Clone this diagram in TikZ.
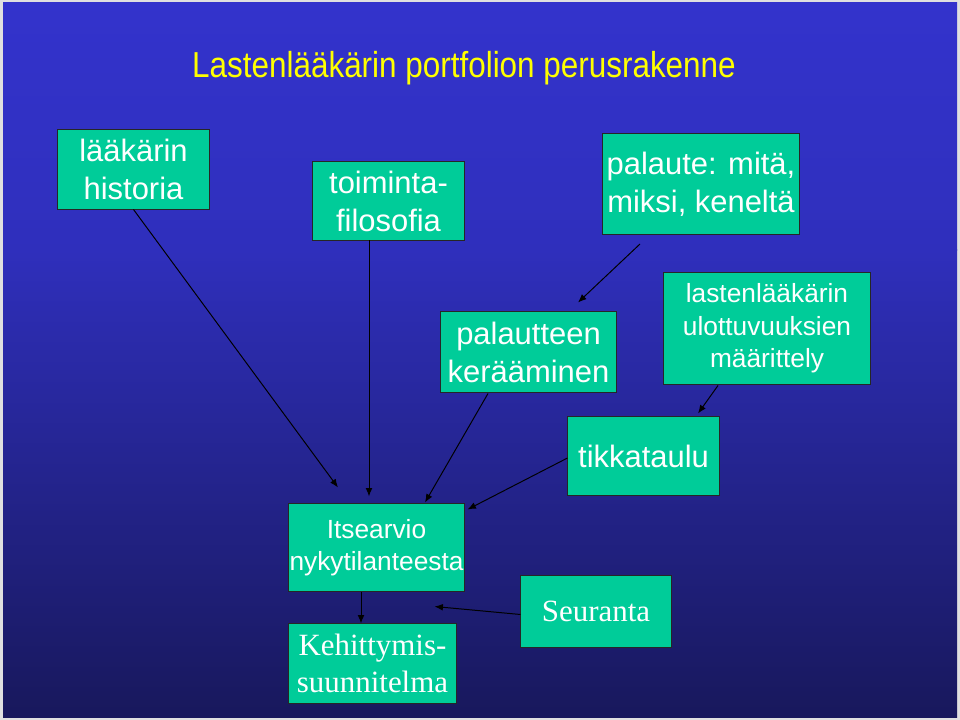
\documentclass[tikz,border=0pt]{standalone}
\usepackage{fontspec}
\setmainfont{Liberation Sans}
\newfontfamily\timesfont{Liberation Serif}
\newfontfamily\titlefont[FakeStretch=0.87]{Liberation Sans}
\usetikzlibrary{arrows.meta}
\definecolor{slidetop}{RGB}{51,51,204}
\definecolor{slidemid}{RGB}{47,47,188}
\definecolor{slidebottom}{RGB}{24,24,92}
\definecolor{boxgreen}{RGB}{0,204,153}
\definecolor{titleyellow}{RGB}{255,255,0}
\tikzset{
  box/.style={draw=black!85, line width=0.7pt, fill=boxgreen, text=white, inner sep=0pt, align=center, font=\fontsize{22}{27}\selectfont},
  smallbox/.style={box, font=\fontsize{18.7}{23}\selectfont},
  serifbox/.style={box, font=\timesfont\fontsize{22}{26.5}\selectfont},
  arr/.style={-{Latex[length=6pt,width=4.8pt]}, line width=0.7pt, black}
}

\begin{document}
\begin{tikzpicture}[x=0.025cm, y=-0.025cm]
  \useasboundingbox (0,0) rectangle (960,720);
  \fill[black!12] (0,0) rectangle (960,720);
  \shade[top color=slidetop, bottom color=slidemid] (3,3) rectangle (957,251);
  \shade[top color=slidemid, bottom color=slidebottom] (3,250) rectangle (957,717);

  \node[text=titleyellow, font=\titlefont\fontsize{25.7}{30}\selectfont] (title) at (464,68) {Lastenlääkärin portfolion perusrakenne};

  % upper row
  \node[box, minimum width=3.775cm, minimum height=1.975cm] (historia) at (133.5,169.5) {lääkärin\\historia};
  \node[box, minimum width=3.775cm, minimum height=1.95cm] (filosofia) at (388.5,201) {toiminta-\\filosofia};
  \node[box, minimum width=4.9cm, minimum height=2.525cm] (palaute) at (701,184) {palaute: mitä,\\miksi, keneltä};

  % middle
  \node[box, minimum width=4.375cm, minimum height=2cm] (keraaminen) at (528.5,352) {palautteen\\kerääminen};
  \node[smallbox, minimum width=5.15cm, minimum height=2.775cm] (ulottuvuudet) at (767,328.5) {lastenlääkärin\\ulottuvuuksien\\määrittely};
  \node[box, minimum width=3.775cm, minimum height=1.95cm] (tikkataulu) at (643.5,456) {tikkataulu};

  % bottom
  \node[smallbox, minimum width=4.375cm, minimum height=2.175cm] (itsearvio) at (376.5,547.5) {Itsearvio\\nykytilanteesta};
  \node[serifbox, minimum width=4.175cm, minimum height=1.975cm] (suunnitelma) at (372.5,663.5) {Kehittymis-\\suunnitelma};
  \node[serifbox, minimum width=3.75cm, minimum height=1.775cm] (seuranta) at (596,611.5) {Seuranta};

  \draw[arr] (historia.south) -- ([shift={(-38.5,-16)}]itsearvio.north);
  \draw[arr] ([shift={(-19.5,0)}]filosofia.south) -- ([shift={(-7.5,-7)}]itsearvio.north);
  \draw[arr] ([shift={(-40.5,1)}]keraaminen.south) -- ([shift={(48.5,-1)}]itsearvio.north);
  \draw[arr] ([shift={(-61,9)}]palaute.south) -- ([shift={(49.5,-9)}]keraaminen.north);
  \draw[arr] ([shift={(-49,1)}]ulottuvuudet.south) -- ([shift={(54.5,-3)}]tikkataulu.north);
  \draw[arr] ([shift={(0,2)}]tikkataulu.west) -- ([shift={(3,6)}]itsearvio.north east);
  \draw[arr] ([shift={(-15.5,0)}]itsearvio.south) -- ([shift={(-11.5,0)}]suunnitelma.north);
  \draw[arr] ([shift={(0,3)}]seuranta.west) -- ([shift={(-22,-17)}]suunnitelma.north east);
\end{tikzpicture}
\end{document}
